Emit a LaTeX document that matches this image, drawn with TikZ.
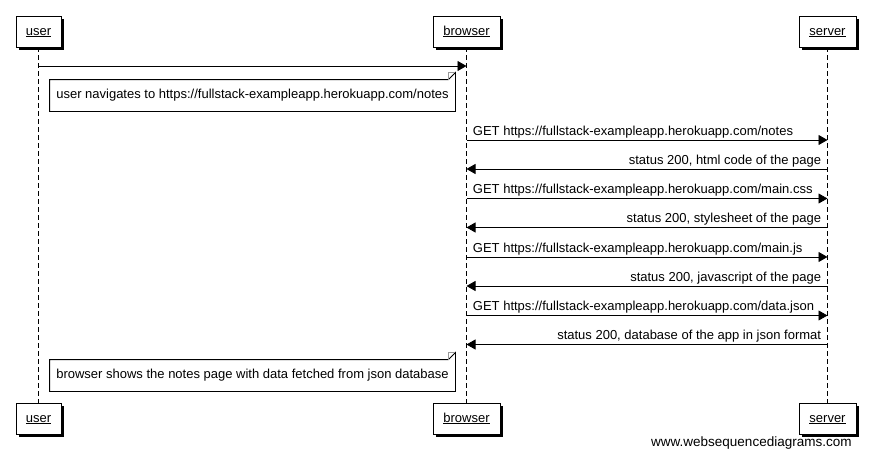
\documentclass[tikz,border=0pt]{standalone}
\usepackage{fontspec}
\setmainfont{Liberation Sans}
\usetikzlibrary{arrows.meta,shadows,positioning}

\tikzset{
  actor/.style={draw, fill=white, inner sep=0pt, minimum height=31pt,
    text height=8pt, text depth=1pt,
    font=\fontsize{13}{15}\selectfont,
    drop shadow={shadow xshift=3pt, shadow yshift=-3pt, fill=black, opacity=1}},
  lifeline/.style={dash pattern=on 5pt off 3pt},
  msg/.style={-{Triangle[length=9pt,width=10pt]}},
  lbl/.style={font=\fontsize{13}{15}\selectfont, inner sep=0pt},
  note/.style={font=\fontsize{13}{15}\selectfont, minimum width=405pt, minimum height=31pt, inner sep=0pt},
  fold/.style={draw=gray!80, line width=0.8pt}
}

\begin{document}
\begin{tikzpicture}[x=1pt, y=-1pt, line width=0.9pt]
  \useasboundingbox (0,0) rectangle (871,458);

  % The actors, top and bottom
  \node[actor, minimum width=45pt] (userT) at (38.5,31.5) {\underline{user}};
  \node[actor, minimum width=67pt] (browserT) at (466.5,31.5) {\underline{browser}};
  \node[actor, minimum width=57pt] (serverT) at (827.5,31.5) {\underline{server}};
  \node[actor, minimum width=45pt] (userB) at (38.5,418.5) {\underline{user}};
  \node[actor, minimum width=67pt] (browserB) at (466.5,418.5) {\underline{browser}};
  \node[actor, minimum width=57pt] (serverB) at (827.5,418.5) {\underline{server}};

  % Lifelines
  \draw[lifeline] (userT) -- (userB);
  \draw[lifeline] (browserT) -- (browserB);
  \draw[lifeline] (serverT) -- (serverB);

  % User opens the page
  \coordinate (m0) at (0,66);
  \draw[msg] (userT |- m0) -- (browserT |- m0);

  \node[note] (open) at (252.5,95.5) {user navigates to https://fullstack-exampleapp.herokuapp.com/notes};
  \draw (open.south west) -- (open.north west) -- ([xshift=-7pt]open.north east)
    -- ([yshift=7pt]open.north east) -- (open.south east) -- cycle;
  \draw[fold] ([xshift=-7pt]open.north east) -- ([xshift=-7pt,yshift=7pt]open.north east) -- ([yshift=7pt]open.north east);

  % Requests and responses
  \foreach \i/\file/\reply in {0/notes/html code of the page,
                               1/main.css/stylesheet of the page,
                               2/main.js/javascript of the page,
                               3/data.json/database of the app in json format} {
    \coordinate (get\i) at (0,140+58.5*\i);
    \coordinate (res\i) at (0,169+58.5*\i);
    \draw[msg] (browserT |- get\i) -- (serverT |- get\i)
      node[lbl, pos=0, anchor=south west, xshift=6pt, yshift=1.5pt] {GET https://fullstack-exampleapp.herokuapp.com/\file};
    \draw[msg] (serverT |- res\i) -- (browserT |- res\i)
      node[lbl, pos=0, anchor=south east, xshift=-6pt, yshift=1.5pt] {status 200, \reply};
  }

  \node[note] (show) at (252.5,375.5) {browser shows the notes page with data fetched from json database};
  \draw (show.south west) -- (show.north west) -- ([xshift=-7pt]show.north east)
    -- ([yshift=7pt]show.north east) -- (show.south east) -- cycle;
  \draw[fold] ([xshift=-7pt]show.north east) -- ([xshift=-7pt,yshift=7pt]show.north east) -- ([yshift=7pt]show.north east);

  \node[anchor=east, font=\fontsize{13.5}{16}\selectfont, inner sep=0pt] (wsd) at (852,443) {www.websequencediagrams.com};
\end{tikzpicture}
\end{document}
